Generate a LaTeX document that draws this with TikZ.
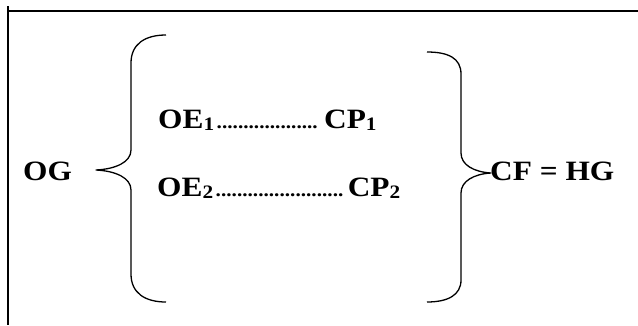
\documentclass[tikz,border=0pt]{standalone}
\usepackage{graphicx}
\usepackage{fontspec}
\setmainfont{Liberation Serif}

\newcommand{\wide}[1]{\scalebox{1.12}[1]{#1}}
\newcommand{\tightdots}{\leaders\hbox{\bfseries\fontsize{19}{19}\selectfont.}\hfill}
\newcommand{\lowidx}[1]{\raisebox{-2.5pt}{\fontsize{19}{19}\selectfont #1}}

\begin{document}
\begin{tikzpicture}[x=1pt,y=-1pt,
	txt/.style={font=\fontsize{28}{30}\selectfont\bfseries,inner sep=0pt,anchor=base west},
	curly/.style={line width=1.3pt,line join=round}]
	\useasboundingbox (0,0) rectangle (638,325);

	% frame (top and left only)
	\draw[line width=2.2pt] (8,6) -- (8,325);
	\draw[line width=2.2pt] (8,11) -- (638,11);

	\node[txt] (og) at (23,180) {\wide{OG}};
	\node[txt] (row1) at (158,128) {\wide{\hbox to 195pt{OE\lowidx{1}\tightdots\hspace{3pt}CP\lowidx{1}}}};
	\node[txt] (row2) at (157,196) {\wide{\hbox to 217pt{OE\lowidx{2}\tightdots\hspace{3pt}CP\lowidx{2}}}};
	\node[txt] (cf) at (490,180) {\wide{CF = HG}};

	% left brace
	\draw[curly] (166,35) .. controls (145,35) and (131,44) .. (131,63)
		-- (131,150) .. controls (131,162) and (116,169) .. (96,170)
		.. controls (116,171) and (131,178) .. (131,190)
		-- (131,274) .. controls (131,293) and (145,302) .. (166,302);
	% right brace
	\draw[curly] (427,52) .. controls (448,52) and (461,58) .. (461,74)
		-- (461,153) .. controls (461,165) and (474,172) .. (491,173)
		.. controls (474,174) and (461,181) .. (461,193)
		-- (461,280) .. controls (461,295) and (448,302) .. (427,302);
\end{tikzpicture}
\end{document}
